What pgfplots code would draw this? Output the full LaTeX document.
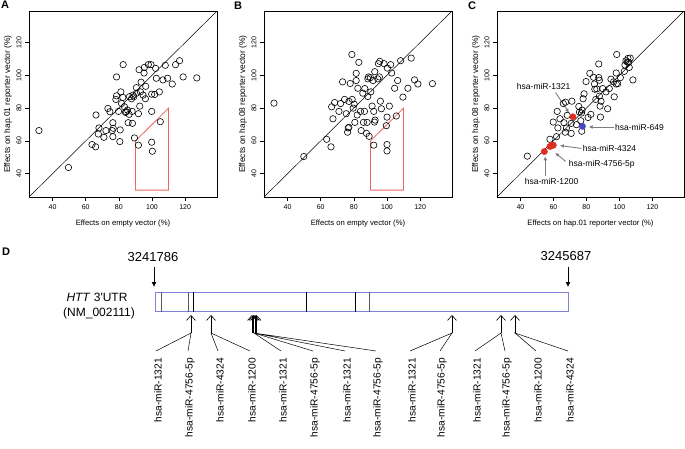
\documentclass[border=0pt]{standalone}
\usepackage{pgfplots}
\pgfplotsset{compat=1.18}
\usepackage{fontspec}
\setmainfont{Liberation Sans}
\usetikzlibrary{arrows.meta}
\definecolor{boxred}{RGB}{235,100,95}
\definecolor{ptred}{RGB}{222,45,35}
\definecolor{ptblue}{RGB}{70,70,190}
\definecolor{boxblue}{RGB}{130,130,215}
\definecolor{arrgray}{RGB}{125,125,125}
\tikzset{lbl/.style={font=\fontsize{10.2}{11}\selectfont, rotate=90, anchor=east, inner sep=0pt}}
\pgfplotsset{
  scat/.style={
    scale only axis, width=188pt, height=186pt,
    xmin=25.8, xmax=139.2, ymin=25.8, ymax=139.2,
    xtick={40,60,80,100,120}, ytick={40,60,80,100,120},
    tick align=outside, tick pos=left,
    major tick length=4pt,
    tick style={black, line width=0.5pt},
    axis line style={line width=0.6pt},
    /pgf/number format/assume math mode=true,
    ticklabel style={font=\fontsize{7}{8}\selectfont},
    yticklabel style={rotate=90, anchor=south},
    xlabel style={font=\fontsize{7.7}{9}\selectfont, at={(axis description cs:0.5,-0.145)}, anchor=center},
    ylabel style={font=\fontsize{8.4}{9}\selectfont, at={(axis description cs:-0.112,0.5)}, anchor=center},
    clip=false,
  },
  circ/.style={only marks, mark=o, mark size=3.2pt, mark options={line width=0.6pt, draw=black}},
  diag/.style={black, line width=0.5pt, mark=none},
  stem/.style={black, line width=0.6pt, mark=none, -{Straight Barb[length=5pt,width=9pt]}},
  fan/.style={black, line width=0.5pt, mark=none},
}
\begin{document}
\begin{tikzpicture}
\path[use as bounding box] (0,0) rectangle (685pt,-448pt);

% ---------------- Panel A
\begin{axis}[scat, at={(29pt,-197pt)}, anchor=south west,
  xlabel={Effects on empty vector (\%)},
  ylabel={Effects on hap.01 reporter vector (\%)}]
\addplot[diag] coordinates {(25.8,25.8) (139.2,139.2)};
\addplot[circ] coordinates {
(31.8,66.3) (49.6,43.8) (63.8,57.8) (66,56.4) (66.2,75.8) (68,67.9) (67.6,64.2) (71,62.2)
(72.2,66.3) (73.4,79.8) (74.6,77.8) (76,66.3) (76.6,67.7) (76.4,71.1) (76.4,62.6) (78.6,99)
(78.2,85.3) (78.6,87.5) (79.8,78) (80.8,66.7) (80.6,59.6) (81.2,89.9) (81.6,82.8) (82.4,86.5)
(82.6,106.5) (83.4,80.8) (84,77.4) (84.4,77.8) (85.2,78.8) (85.6,71.1) (86.2,76.2) (86.4,87)
(87.6,85.7) (88.2,70.7) (88,78) (88.6,87.9) (89,86.9) (89.4,61.8) (90.6,89.1) (90.6,92.5)
(91.8,76.6) (92.2,103.4) (91.8,57.4) (92.6,81.2) (93,89.9) (93.4,95.8) (94.6,87.9) (95.2,101.4)
(95.4,104.8) (96.2,93.3) (96,85.7) (97.8,106.5) (99.4,106.5) (99.8,88.5) (99.8,78) (99.8,59.2)
(100.2,53.7) (101.6,88.3) (102.2,104.2) (102.6,98.2) (104.4,89.9) (105,71.7) (106.6,97.2) (108,106.1)
(109.4,98.2) (112.2,94.7) (114.2,106.5) (116.6,108.9) (118.8,99) (127,98.4)};
\addplot[boxred, line width=0.8pt, mark=none] coordinates {(90,30) (90,60) (110,80) (110,30) (90,30)};
\end{axis}

% ---------------- Panel B
\begin{axis}[scat, at={(264pt,-197pt)}, anchor=south west,
  xlabel={Effects on empty vector (\%)},
  ylabel={Effects on hap.08 reporter vector (\%)}]
\addplot[diag] coordinates {(25.8,25.8) (139.2,139.2)};
\addplot[circ] coordinates {
(31.8,83) (49.8,50.5) (63.6,61) (66.2,56.4) (66.6,80.8) (67.4,73.5) (68.4,83.4) (71,78)
(72,82.8) (73.2,96) (74.4,85.3) (75.4,76.6) (76.2,65.3) (76.6,67.9) (77,68.3) (77,84.1)
(77.8,95) (78.8,112.7) (79,85.3) (79.6,80) (80.2,82.4) (80.6,71.3) (81.4,101.2) (81.4,96.8)
(82,75.8) (82.4,92.1) (83,107.9) (84,78) (84.4,66.3) (85.4,89.1) (85.8,71.3) (86.4,78)
(86.6,91.9) (87.6,64.6) (88,71.3) (88.4,87.1) (88.4,97.8) (88.8,99) (89.2,62.8) (90,98.6)
(90.2,89.9) (91,81.2) (91.6,96.8) (92,57.4) (92,78) (92.4,71.5) (92.8,72.7) (92.6,102.2)
(94.4,97.8) (95.4,99) (95.6,108.5) (94.8,107.1) (96,84.2) (96.6,79.6) (98.2,107.1) (99.6,69.3)
(100,74.5) (100,57.8) (100,53.9) (100.2,104.4) (101.4,81.2) (102.2,106.5) (102.8,101.4) (104.6,92.1)
(105.6,75.2) (106.4,96.8) (108.2,108.9) (109.6,86.7) (112.6,92.1) (114.6,110.5) (116.6,97.2) (118.6,94.7)
(127.4,94.9)};
\addplot[boxred, line width=0.8pt, mark=none] coordinates {(90,30) (90,60) (110,80) (110,30) (90,30)};
\end{axis}

% ---------------- Panel C
\begin{axis}[scat, at={(497pt,-197pt)}, anchor=south west, width=187pt,
  xlabel={Effects on hap.01 reporter vector (\%)},
  ylabel={Effects on hap.08 reporter vector (\%)}]
\addplot[diag] coordinates {(25.8,25.8) (139.2,139.2)};
\addplot[circ] coordinates {
(44.2,50.7) (57.9,61) (61.9,62.6) (62.3,78) (59.9,71.5) (62.7,67.9) (64,73.5) (66,82.8)
(66.4,71.1) (67.2,65.3) (67.4,83.6) (67.9,67.9) (68.4,75.6) (70.8,70.7) (70.8,64.6) (71.2,84.2)
(74,69.9) (75.4,81) (75.8,77.6) (76.6,72.3) (77.2,65.9) (77.4,78.8) (78,85.7) (78.6,88.7)
(77,77) (79.8,96.2) (81,74.3) (82.1,101.2) (82.7,76.2) (84.3,98.8) (84.9,94.7) (85.1,91.5)
(85.7,85.3) (86.3,91.7) (87.5,106.9) (87.5,98.6) (87.9,97) (87.9,87.3) (88.3,81.2) (88.5,74.5)
(88.9,84.2) (89.9,91.9) (91.9,89.9) (92.9,79.6) (93.9,91.9) (94.9,97.6) (96.5,96) (96.9,86.9)
(98.1,94.7) (98.1,101.4) (98.4,112.7) (99,94.9) (100.6,98.6) (103,102.4) (103.4,106.3) (104,108.9)
(104.8,108.1) (105.2,110.3) (105.6,107.9) (106,104.8) (106.6,110.5) (108.2,97.2)};
\addplot[only marks, mark=*, mark size=3.2pt, mark options={draw=ptred, fill=ptred}] coordinates {
(54.5,53.5) (57.9,56.6) (58.9,57.2) (59.9,57.4) (71.8,74.7)};
\addplot[only marks, mark=*, mark size=3.2pt, mark options={draw=ptblue, fill=ptblue}] coordinates {(77.6,68.9)};
\draw[arrgray, line width=0.9pt, -{Latex[length=4pt,width=4pt]}] (axis cs:61.3,89.5) -- (axis cs:69.4,77.2);
\draw[arrgray, line width=0.9pt, -{Latex[length=4pt,width=4pt]}] (axis cs:96.9,68.5) -- (axis cs:81.4,68.5);
\draw[arrgray, line width=0.9pt, -{Latex[length=4pt,width=4pt]}] (axis cs:77,55.4) -- (axis cs:63.9,57.2);
\draw[arrgray, line width=0.9pt, -{Latex[length=4pt,width=4pt]}] (axis cs:67.4,47.5) -- (axis cs:61.1,52.7);
\draw[arrgray, line width=0.9pt, -{Latex[length=4pt,width=4pt]}] (axis cs:55.1,38.4) -- (axis cs:55.1,50.6);
\node[font=\fontsize{8.5}{9}\selectfont] at (axis cs:54.1,93.5) {hsa-miR-1321};
\node[font=\fontsize{8.5}{9}\selectfont] at (axis cs:112.2,68.5) {hsa-miR-649};
\node[font=\fontsize{8.5}{9}\selectfont] at (axis cs:94,55.2) {hsa-miR-4324};
\node[font=\fontsize{8.5}{9}\selectfont] at (axis cs:89.3,46) {hsa-miR-4756-5p};
\node[font=\fontsize{8.5}{9}\selectfont] at (axis cs:58.9,35) {hsa-miR-1200};
\end{axis}

% ---------------- Panel D (pixel coordinates)
\begin{axis}[at={(0pt,0pt)}, anchor=north west, scale only axis,
  width=685pt, height=448pt, xmin=0, xmax=685, ymin=0, ymax=448,
  y dir=reverse, hide axis, clip=false]
\addplot[boxblue, line width=0.8pt, mark=none] coordinates {(155,292) (568,292) (568,311.5) (155,311.5) (155,292)};
\addplot[black!65, line width=0.7pt, mark=none] coordinates {(161,292) (161,311.5)};
\addplot[black!65, line width=0.7pt, mark=none] coordinates {(188,292) (188,311.5)};
\addplot[black, line width=0.7pt, mark=none] coordinates {(193,292) (193,311.5)};
\addplot[black, line width=0.7pt, mark=none] coordinates {(306,292) (306,311.5)};
\addplot[black, line width=0.7pt, mark=none] coordinates {(355,292) (355,311.5)};
\addplot[black!65, line width=0.7pt, mark=none] coordinates {(369,292) (369,311.5)};
% genomic position arrows
\addplot[black, line width=0.8pt, mark=none, -{Latex[length=5pt,width=5pt]}] coordinates {(154,267) (154,287)};
\addplot[black, line width=0.8pt, mark=none, -{Latex[length=5pt,width=5pt]}] coordinates {(568,267) (568,287)};
% site arrows
\addplot[stem] coordinates {(191,333) (191,315)};
\addplot[stem] coordinates {(211,333) (211,315)};
\addplot[stem] coordinates {(252,333) (252,315)};
\addplot[stem] coordinates {(253.5,333) (253.5,315)};
\addplot[stem] coordinates {(255,333) (255,315)};
\addplot[stem] coordinates {(256.5,333) (256.5,315)};
\addplot[stem] coordinates {(452,333) (452,315)};
\addplot[stem] coordinates {(501,333) (501,315)};
\addplot[stem] coordinates {(515,333) (515,315)};
% fan lines
\addplot[fan] coordinates {(156,351) (191,333) (188,351)};
\addplot[fan] coordinates {(218,351) (211,333) (250,351)};
\addplot[fan] coordinates {(281,351) (254,333) (313,351)};
\addplot[fan] coordinates {(345,351) (254,333) (376,351)};
\addplot[fan] coordinates {(410,351) (452,333) (440,351)};
\addplot[fan] coordinates {(475,351) (501,333) (505,351)};
\addplot[fan] coordinates {(536,351) (515,333) (568,351)};
% texts
\node[font=\fontsize{13}{14}\selectfont] at (axis cs:153,257) {3241786};
\node[font=\fontsize{13}{14}\selectfont] at (axis cs:566,256) {3245687};
\node[font=\fontsize{12}{13}\selectfont] at (axis cs:97,297) {\textit{HTT} 3\textquotesingle UTR};
\node[font=\fontsize{12}{13}\selectfont] at (axis cs:99,313) {(NM\_002111)};
\node[lbl] at (axis cs:158,358) {hsa-miR-1321};
\node[lbl] at (axis cs:190,358) {hsa-miR-4756-5p};
\node[lbl] at (axis cs:220,358) {hsa-miR-4324};
\node[lbl] at (axis cs:252,358) {hsa-miR-1200};
\node[lbl] at (axis cs:283,358) {hsa-miR-1321};
\node[lbl] at (axis cs:315,358) {hsa-miR-4756-5p};
\node[lbl] at (axis cs:347,358) {hsa-miR-1321};
\node[lbl] at (axis cs:378,358) {hsa-miR-4756-5p};
\node[lbl] at (axis cs:412,358) {hsa-miR-1321};
\node[lbl] at (axis cs:442,358) {hsa-miR-4756-5p};
\node[lbl] at (axis cs:477,358) {hsa-miR-1321};
\node[lbl] at (axis cs:507,358) {hsa-miR-4756-5p};
\node[lbl] at (axis cs:538,358) {hsa-miR-1200};
\node[lbl] at (axis cs:570,358) {hsa-miR-4324};
\end{axis}

% panel letters
\node[font=\bfseries\fontsize{11}{12}\selectfont] at (5pt,-5pt) {A};
\node[font=\bfseries\fontsize{11}{12}\selectfont] at (238pt,-6pt) {B};
\node[font=\bfseries\fontsize{11}{12}\selectfont] at (472pt,-6pt) {C};
\node[font=\bfseries\fontsize{11}{12}\selectfont] at (6pt,-252pt) {D};
\end{tikzpicture}
\end{document}
